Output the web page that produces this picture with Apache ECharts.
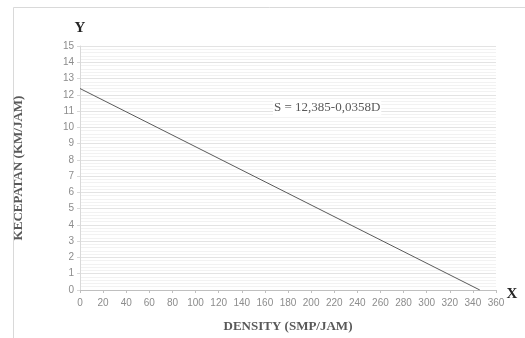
<!DOCTYPE html>
<html>
<head>
<meta charset="utf-8">
<script src="https://cdn.jsdelivr.net/npm/echarts@6/dist/echarts.min.js"></script>
<style>html,body{margin:0;padding:0;background:#fff}#c{width:525px;height:338px}</style>
</head>
<body>
<div id="c"></div>
<script>
var density = [0, 346];
var speed = [12.385, 0];
var xTicks = {min: 0, max: 360, interval: 20};
var yTicks = {min: 0, max: 15, interval: 1};
var equation = 'S = 12,385-0,0358D';
var xTitle = 'DENSITY (SMP/JAM)';
var yTitle = 'KECEPATAN (KM/JAM)';

var chart = echarts.init(document.getElementById('c'), null, {renderer: 'canvas'});
chart.setOption({
  animation: false,
  backgroundColor: '#fff',
  grid: {left: 80, right: 29, top: 46, bottom: 45},
  xAxis: {
    type: 'value', min: xTicks.min, max: xTicks.max, interval: xTicks.interval,
    name: xTitle, nameLocation: 'middle', nameGap: 30,
    nameTextStyle: {fontFamily: 'Liberation Serif', fontWeight: 'bold', fontSize: 13, color: '#595959'},
    axisLine: {lineStyle: {color: '#bfbfbf'}},
    axisTick: {show: true, length: 3, lineStyle: {color: '#bfbfbf'}},
    axisLabel: {fontFamily: 'Liberation Sans', fontSize: 10, color: '#8c8c8c', margin: 8},
    splitLine: {show: false}
  },
  yAxis: {
    type: 'value', min: yTicks.min, max: yTicks.max, interval: yTicks.interval,
    name: yTitle, nameLocation: 'middle', nameGap: 55,
    nameTextStyle: {fontFamily: 'Liberation Serif', fontWeight: 'bold', fontSize: 13, color: '#595959'},
    axisLine: {show: true, lineStyle: {color: '#d9d9d9'}},
    axisTick: {show: true, length: 3, lineStyle: {color: '#d9d9d9'}},
    axisLabel: {fontFamily: 'Liberation Sans', fontSize: 10, color: '#8c8c8c', margin: 6},
    splitLine: {show: true, lineStyle: {color: '#e3e3e3'}},
    minorTick: {show: false, splitNumber: 5},
    minorSplitLine: {show: true, lineStyle: {color: '#f2f2f2'}}
  },
  series: [{
    type: 'line',
    data: density.map(function (d, i) { return [d, speed[i]]; }),
    symbol: 'none',
    lineStyle: {color: '#5a5a5a', width: 1}
  }],
  graphic: [
    {type: 'rect', shape: {x: 13.5, y: 7.5, width: 600, height: 400}, style: {fill: 'none', stroke: '#d9d9d9', lineWidth: 1}, z: -1},
    {type: 'text', x: 80, y: 28, style: {text: 'Y', fontFamily: 'Liberation Serif', fontWeight: 'bold', fontSize: 15, fill: '#262626', align: 'center', verticalAlign: 'middle'}},
    {type: 'text', x: 512, y: 294, style: {text: 'X', fontFamily: 'Liberation Serif', fontWeight: 'bold', fontSize: 15, fill: '#262626', align: 'center', verticalAlign: 'middle'}},
    {type: 'text', x: 273, y: 108, z: 10, style: {text: equation, fontFamily: 'Liberation Serif', fontSize: 13, fill: '#595959', align: 'left', verticalAlign: 'middle', backgroundColor: '#fff', padding: [1, 1]}}
  ]
});
</script>
</body>
</html>
